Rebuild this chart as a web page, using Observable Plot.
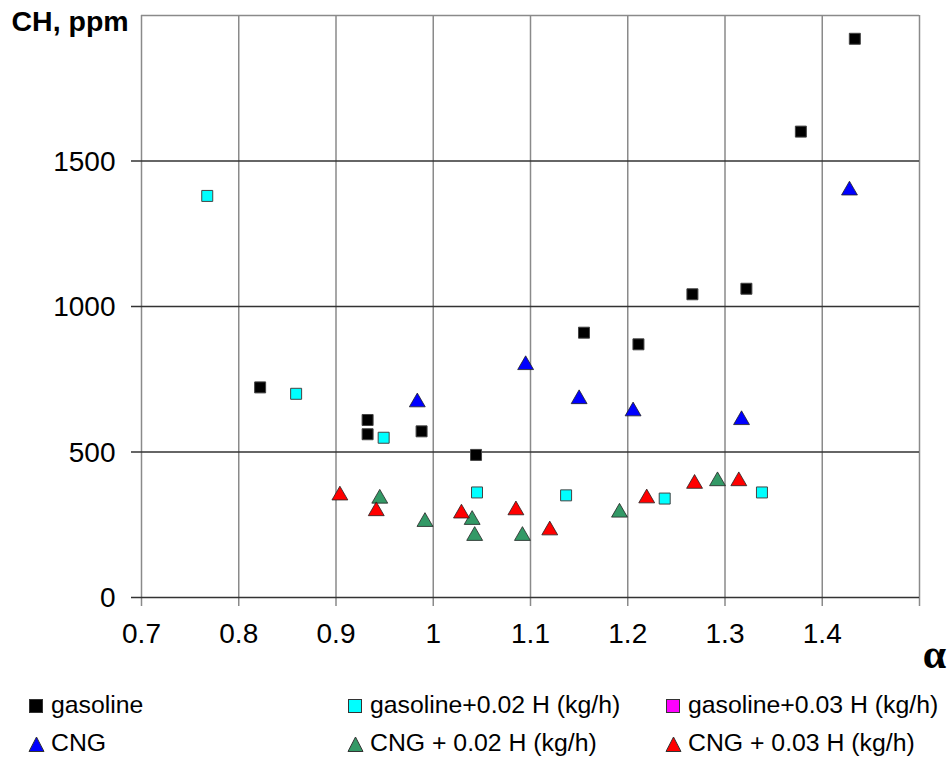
<!DOCTYPE html>
<html>
<head>
<meta charset="utf-8">
<script src="https://cdn.jsdelivr.net/npm/d3@7"></script>
<script src="https://cdn.jsdelivr.net/npm/@observablehq/plot@0.6"></script>
<style>
  html, body { margin: 0; padding: 0; background: #fff; }
  #wrap { position: relative; width: 951px; height: 757px; font-family: "Liberation Sans", Arial, sans-serif; }
  #wrap svg.plot { position: absolute; left: 0; top: 0; }
  .leg { position: absolute; font-size: 24.8px; line-height: 1; white-space: nowrap; color: #000; }
  .leg svg { position: absolute; }
</style>
</head>
<body>
<div id="wrap"></div>
<script>
// ---- data (alpha, CH ppm) ----
const gasolineX = [0.822, 0.9325, 0.9325, 0.988, 1.044, 1.155, 1.211, 1.2665, 1.322, 1.378, 1.4335];
const gasolineY = [722, 610, 561, 571, 490, 910, 870, 1042, 1061, 1601, 1920];

const gas002X = [0.7676, 0.859, 0.949, 1.045, 1.1366, 1.238, 1.338];
const gas002Y = [1380, 700, 549, 361, 351, 340, 361];

const gas003X = [];
const gas003Y = [];

const cngX = [0.9836, 1.095, 1.150, 1.2055, 1.317, 1.428];
const cngY = [671, 799, 682, 640, 610, 1399];

const cng002X = [0.945, 0.9915, 1.040, 1.0426, 1.0917, 1.1915, 1.2923];
const cng002Y = [340, 260, 267, 212, 212, 292, 400];

const cng003X = [0.904, 0.9414, 1.029, 1.085, 1.1198, 1.2195, 1.2687, 1.3142];
const cng003Y = [351, 297, 289, 300, 231, 341, 391, 400];

const seriesNames = ["gasoline", "gasoline+0.02 H (kg/h)", "gasoline+0.03 H (kg/h)", "CNG", "CNG + 0.02 H (kg/h)", "CNG + 0.03 H (kg/h)"];
const seriesColors = ["#000000", "#00FFFF", "#FF00FF", "#0000FF", "#339966", "#FF0000"];
const seriesSymbols = ["square", "square", "square", "triangle", "triangle", "triangle"];

const xTicks = [0.7, 0.8, 0.9, 1.0, 1.1, 1.2, 1.3, 1.4, 1.5];
const xTickLabels = ["0.7", "0.8", "0.9", "1", "1.1", "1.2", "1.3", "1.4"];
const yTicks = [0, 500, 1000, 1500];
const yTickLabels = ["0", "500", "1000", "1500"];
const yTop = 2000;

// ---- build table ----
const seriesX = [gasolineX, gas002X, gas003X, cngX, cng002X, cng003X];
const seriesY = [gasolineY, gas002Y, gas003Y, cngY, cng002Y, cng003Y];
const points = [];
seriesNames.forEach((name, s) => {
  seriesX[s].forEach((x, i) => points.push({series: name, x, y: seriesY[s][i], idx: s}));
});
const squares = points.filter(d => seriesSymbols[d.idx] === "square");
const triangles = points.filter(d => seriesSymbols[d.idx] === "triangle");

const font = '"Liberation Sans", Arial, sans-serif';

const chart = Plot.plot({
  width: 951,
  height: 672,
  marginLeft: 141,
  marginRight: 32,
  marginTop: 15,
  marginBottom: 75,
  style: {fontFamily: font, background: "transparent", overflow: "visible"},
  x: {domain: [0.7, 1.5], axis: null},
  y: {domain: [0, yTop], axis: null},
  marks: [
    Plot.ruleY([yTop], {stroke: "#8a8a8a", strokeWidth: 1.3}),
    Plot.ruleX(xTicks, {stroke: "#8a8a8a", strokeWidth: 1.5, insetBottom: -9}),
    Plot.ruleY(yTicks, {stroke: "#333333", strokeWidth: 1.3, insetLeft: -10}),
    Plot.text(xTickLabels.map((t, i) => ({v: xTicks[i], t})), {
      x: "v", text: "t", frameAnchor: "bottom", dy: 45, fontSize: 28, fill: "#000"
    }),
    Plot.text(yTickLabels.map((t, i) => ({v: yTicks[i], t})), {
      y: "v", text: "t", frameAnchor: "left", textAnchor: "end", dx: -26, dy: 1, fontSize: 28, fill: "#000"
    }),
    Plot.text(["CH, ppm"], {
      frameAnchor: "top-left", textAnchor: "start", lineAnchor: "top", dx: -130, dy: -5,
      fontSize: 28.5, fontWeight: "bold", fill: "#000"
    }),
    Plot.text(["α"], {
      frameAnchor: "bottom-right", textAnchor: "middle", lineAnchor: "bottom", dx: 15, dy: 70,
      fontSize: 42, fontWeight: "bold", fontFamily: '"Liberation Serif", "DejaVu Serif", serif', fill: "#000"
    }),
    Plot.dot(squares, {
      x: "x", y: "y", symbol: "square", r: 6.2,
      fill: d => seriesColors[d.idx], stroke: "#444", strokeWidth: 1
    }),
    Plot.dot(triangles, {
      x: "x", y: "y", symbol: "triangle", r: 5.9,
      fill: d => seriesColors[d.idx], stroke: "#222", strokeWidth: 0.8
    })
  ]
});
chart.classList.add("plot");
const wrap = document.getElementById("wrap");
wrap.appendChild(chart);

// ---- legend ----
const legCols = [29, 348, 666];
const legRows = [699, 737];
seriesNames.forEach((name, s) => {
  const col = s % 3, row = Math.floor(s / 3);
  const div = document.createElement("div");
  div.className = "leg";
  div.style.left = (legCols[col] + 22) + "px";
  div.style.top = (legRows[row] - 6.5) + "px";
  div.textContent = name;
  wrap.appendChild(div);
  const ns = "http://www.w3.org/2000/svg";
  const svg = document.createElementNS(ns, "svg");
  svg.setAttribute("width", 18); svg.setAttribute("height", 18);
  svg.style.position = "absolute";
  svg.style.left = (legCols[col] - 1) + "px";
  svg.style.top = (legRows[row] - 1) + "px";
  let shape;
  if (seriesSymbols[s] === "square") {
    shape = document.createElementNS(ns, "rect");
    shape.setAttribute("x", 1.5); shape.setAttribute("y", 1.5);
    shape.setAttribute("width", 13); shape.setAttribute("height", 13);
  } else {
    shape = document.createElementNS(ns, "polygon");
    shape.setAttribute("points", "8.5,1 16,15.5 1,15.5");
  }
  shape.setAttribute("fill", seriesColors[s]);
  shape.setAttribute("stroke", "#333");
  shape.setAttribute("stroke-width", 1);
  svg.appendChild(shape);
  wrap.appendChild(svg);
});
</script>
</body>
</html>
